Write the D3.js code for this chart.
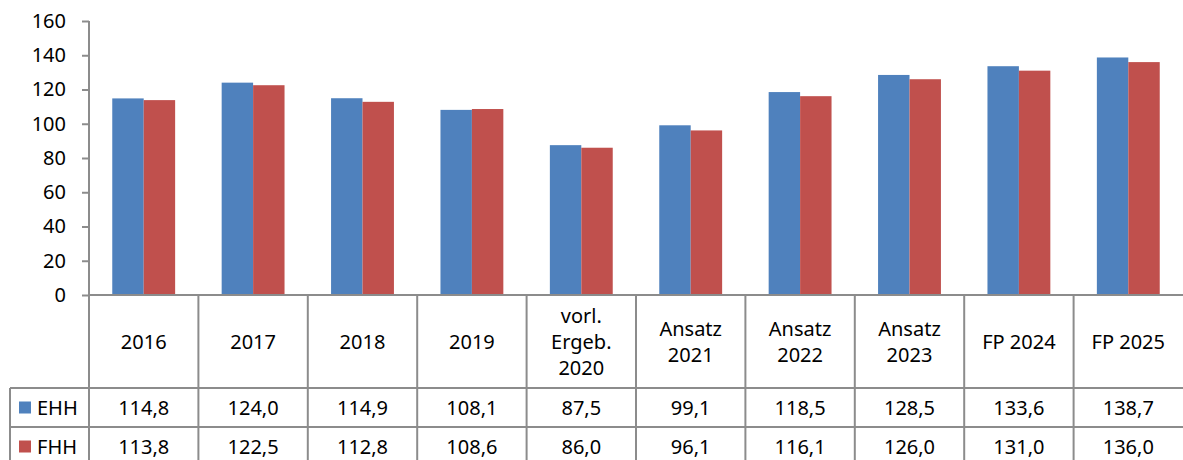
<!DOCTYPE html>
<html>
<head>
<meta charset="utf-8">
<script src="https://cdn.jsdelivr.net/npm/d3@7"></script>
<style>
  body { margin: 0; background: #fff; }
  svg { display: block; }
  text { font-family: "Noto Sans", "Open Sans", sans-serif; fill: #000; }
</style>
</head>
<body>
<div id="chart"></div>
<script>
// data
var categories = [["2016"], ["2017"], ["2018"], ["2019"], ["vorl.", "Ergeb.", "2020"],
                  ["Ansatz", "2021"], ["Ansatz", "2022"], ["Ansatz", "2023"], ["FP 2024"], ["FP 2025"]];
var seriesNames = ["EHH", "FHH"];
var ehh = [114.8, 124.0, 114.9, 108.1, 87.5, 99.1, 118.5, 128.5, 133.6, 138.7];
var fhh = [113.8, 122.5, 112.8, 108.6, 86.0, 96.1, 116.1, 126.0, 131.0, 136.0];
var yTicks = [0, 20, 40, 60, 80, 100, 120, 140, 160];
var colors = ["#4F81BD", "#C0504D"];

var W = 1183, H = 460;
var plotLeft = 89, plotRight = 1183, plotTop = 21, axisY = 295;
var headerBottom = 388, row1Bottom = 427, tableLeft = 10;
var gridColor = "#8c8c8c";
var fontSize = "20px";

var svg = d3.select("#chart").append("svg")
    .attr("width", W).attr("height", H);

// scales
var x = d3.scaleBand()
    .domain(d3.range(categories.length))
    .range([plotLeft, plotRight])
    .paddingInner(0).paddingOuter(0);

var xs = d3.scaleBand()
    .domain(seriesNames)
    .range([0, x.bandwidth()])
    .paddingInner(0)
    .paddingOuter(0.74);

var y = d3.scaleLinear().domain([0, 160]).range([axisY, plotTop]);

// bars
var series = [ehh, fhh];
series.forEach(function(vals, si) {
    svg.append("g").selectAll("rect")
        .data(vals)
        .enter().append("rect")
        .attr("x", function(d, i) { return x(i) + xs(seriesNames[si]); })
        .attr("width", xs.bandwidth())
        .attr("y", function(d) { return y(d); })
        .attr("height", function(d) { return axisY - y(d); })
        .attr("fill", colors[si]);
});

// y axis
var yAxis = d3.axisLeft(y).tickValues(yTicks).tickSize(7).tickPadding(16);
var ya = svg.append("g")
    .attr("transform", "translate(" + plotLeft + ",0)")
    .call(yAxis);
ya.select(".domain").remove();
ya.selectAll(".tick line").attr("stroke", gridColor).attr("stroke-width", 2);
ya.selectAll(".tick text")
    .style("font-family", "'Noto Sans', sans-serif")
    .style("font-size", fontSize)
    .attr("fill", "#000");

// axis line + table grid
var g = svg.append("g").attr("stroke", gridColor).attr("stroke-width", 2);
g.append("line").attr("x1", plotLeft).attr("x2", plotLeft).attr("y1", plotTop).attr("y2", H);
g.append("line").attr("x1", plotLeft).attr("x2", plotRight).attr("y1", axisY).attr("y2", axisY);
g.append("line").attr("x1", tableLeft).attr("x2", plotRight).attr("y1", headerBottom).attr("y2", headerBottom);
g.append("line").attr("x1", tableLeft).attr("x2", plotRight).attr("y1", row1Bottom).attr("y2", row1Bottom);
g.append("line").attr("x1", tableLeft).attr("x2", tableLeft).attr("y1", headerBottom).attr("y2", H);
g.selectAll("line.sep")
    .data(d3.range(1, categories.length))
    .enter().append("line")
    .attr("class", "sep")
    .attr("x1", function(i) { return x(i); })
    .attr("x2", function(i) { return x(i); })
    .attr("y1", axisY).attr("y2", H);

// header labels
var lineH = 26;
var headerMid = (axisY + headerBottom) / 2;
svg.append("g").selectAll("text")
    .data(categories)
    .enter().append("text")
    .attr("text-anchor", "middle")
    .style("font-size", fontSize)
    .each(function(lines, i) {
        var t = d3.select(this);
        var y0 = headerMid - (lines.length - 1) * lineH / 2;
        lines.forEach(function(l, k) {
            t.append("tspan")
                .attr("x", x(i) + x.bandwidth() / 2)
                .attr("y", y0 + k * lineH)
                .attr("dy", "0.35em")
                .text(l);
        });
    });

// data rows
var fmt = function(v) { return v.toFixed(1).replace(".", ","); };
var rowMids = [(headerBottom + row1Bottom) / 2, (row1Bottom + H) / 2 + 3];
series.forEach(function(vals, si) {
    var ry = rowMids[si];
    svg.append("rect")
        .attr("x", 19).attr("y", ry - 6)
        .attr("width", 12).attr("height", 12)
        .attr("fill", colors[si]);
    svg.append("text")
        .attr("x", 37).attr("y", ry).attr("dy", "0.35em")
        .style("font-size", fontSize)
        .text(seriesNames[si]);
    svg.append("g").selectAll("text")
        .data(vals)
        .enter().append("text")
        .attr("x", function(d, i) { return x(i) + x.bandwidth() / 2; })
        .attr("y", ry).attr("dy", "0.35em")
        .attr("text-anchor", "middle")
        .style("font-size", fontSize)
        .text(fmt);
});
</script>
</body>
</html>
